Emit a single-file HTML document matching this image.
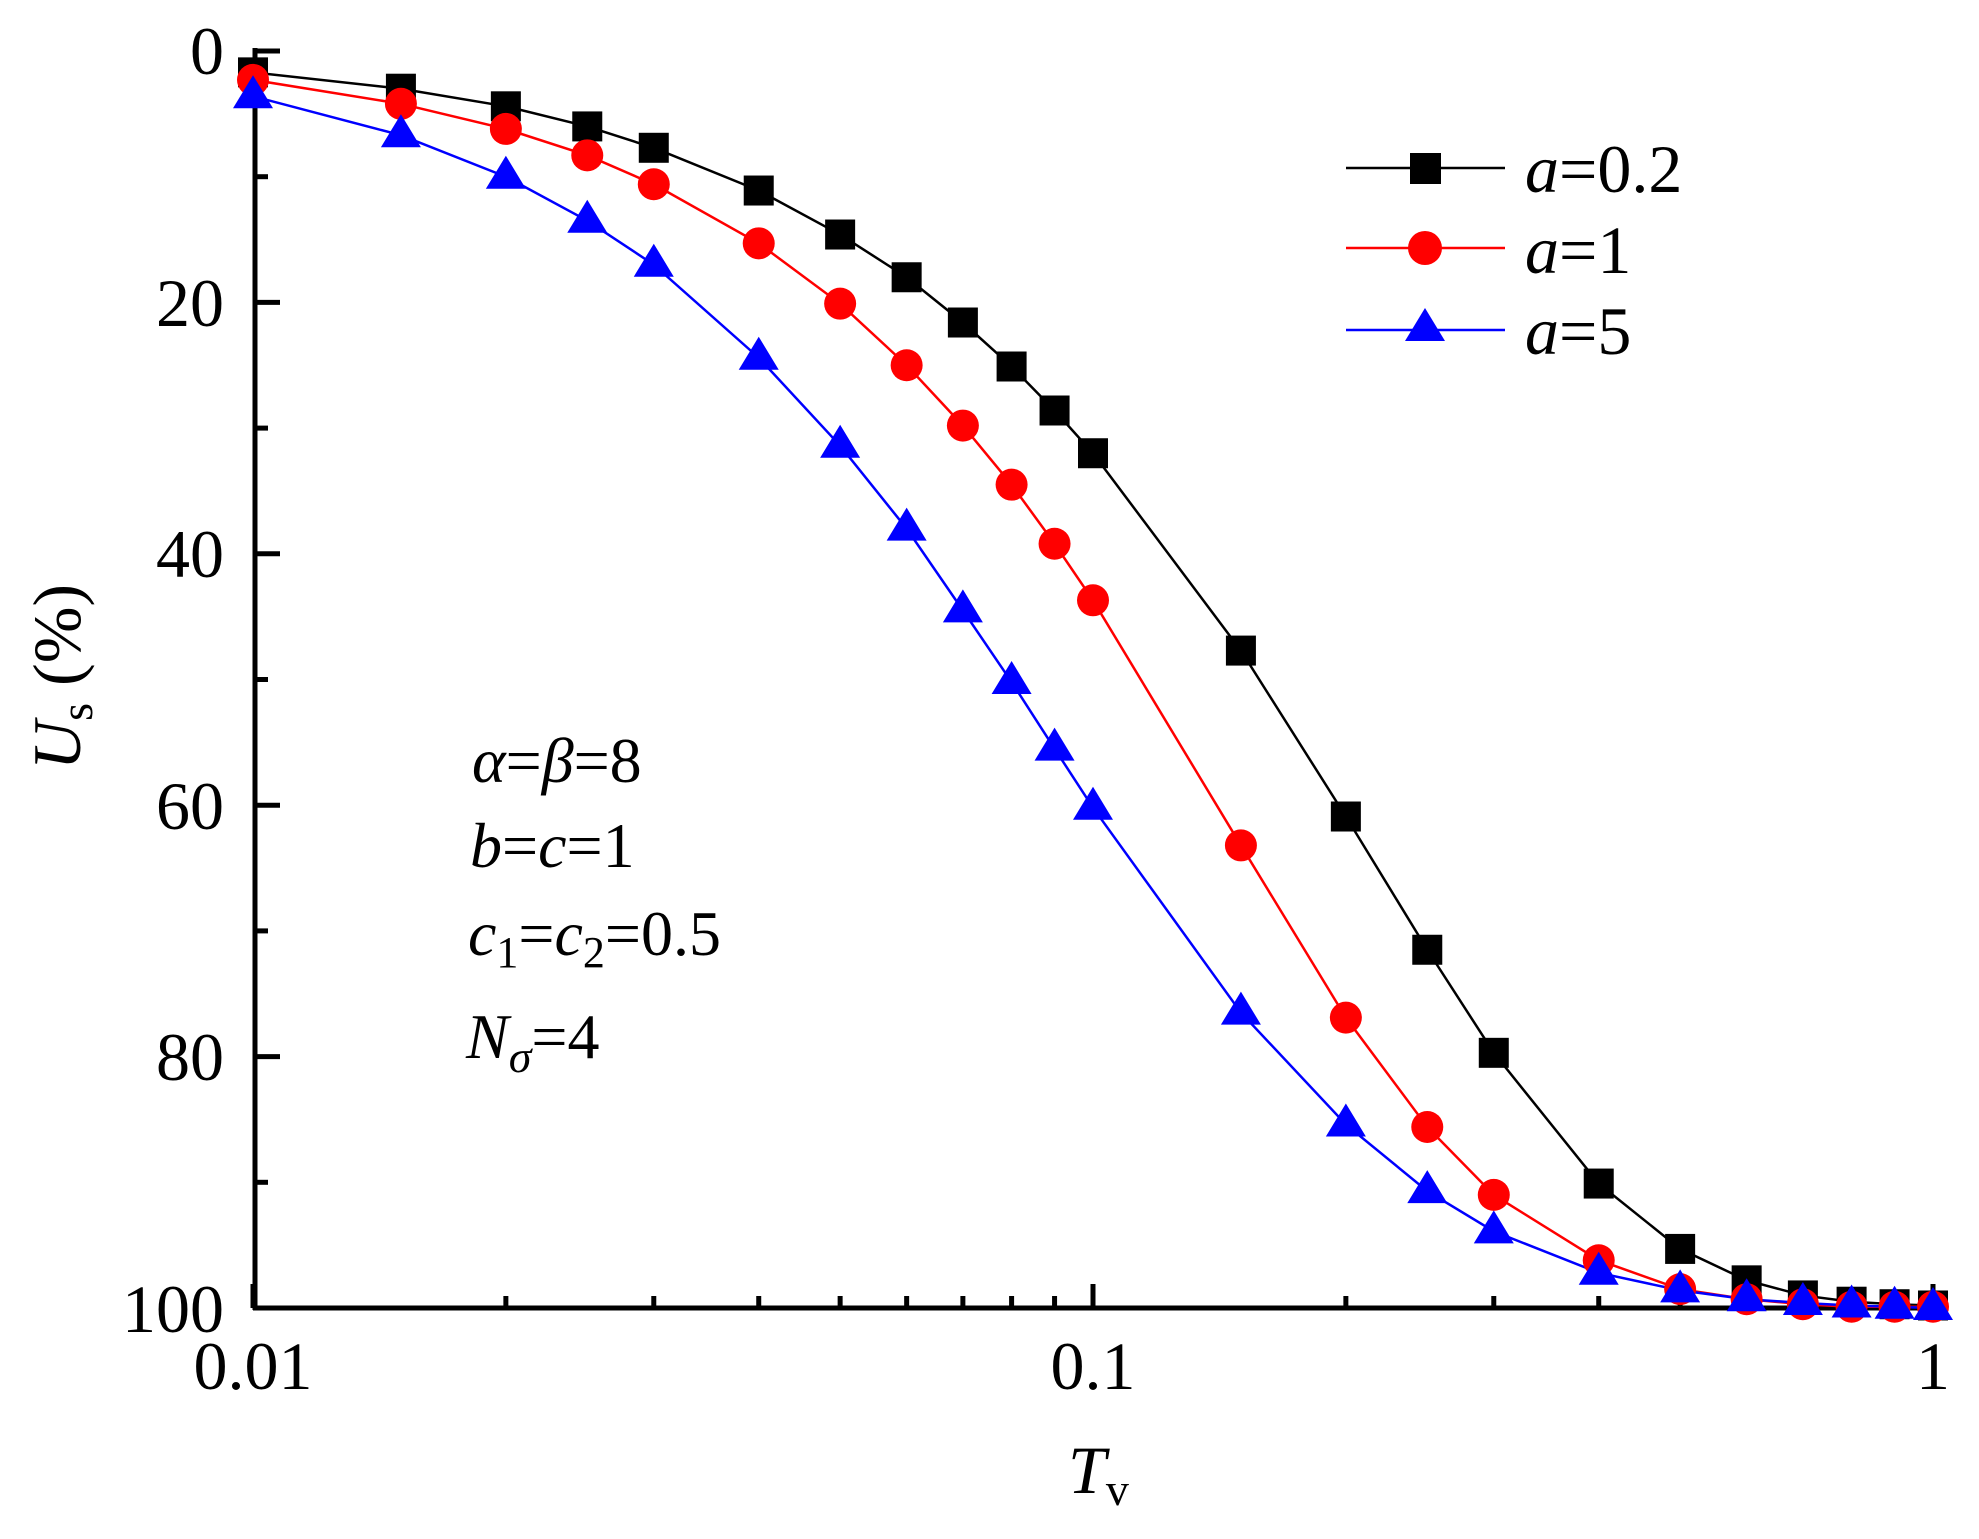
<!DOCTYPE html>
<html><head><meta charset="utf-8"><style>
html,body{margin:0;padding:0;background:#fff}
svg{display:block}
</style></head><body>
<svg id="s" width="1979" height="1539" viewBox="0 0 1979 1539" xmlns="http://www.w3.org/2000/svg" font-family="'Liberation Serif', 'Times New Roman', serif">
<g id="ticks" stroke="#000" stroke-width="5"></g>
<line x1="255" y1="48" x2="255" y2="1310" stroke="#000" stroke-width="5"/>
<line x1="253" y1="1308" x2="1936" y2="1308" stroke="#000" stroke-width="5"/>
<g font-size="68" text-anchor="end">
<text x="224" y="74">0</text>
<text x="224" y="326">20</text>
<text x="224" y="577">40</text>
<text x="224" y="829">60</text>
<text x="224" y="1080">80</text>
<text x="224" y="1332">100</text>
</g>
<g font-size="68" text-anchor="middle">
<text x="253" y="1389">0.01</text>
<text x="1093" y="1389">0.1</text>
<text x="1933" y="1389">1</text>
</g>
<text x="1068" y="1493" font-size="68" font-style="italic">T<tspan font-style="normal" font-size="46" dy="12">v</tspan></text>
<text transform="translate(80,677) rotate(-90)" font-size="68" text-anchor="middle"><tspan font-style="italic">U</tspan><tspan font-size="46" dy="12">s</tspan><tspan dy="-12"> (%)</tspan></text>
<g id="series"></g>
<g>
<line x1="1346" y1="168" x2="1505" y2="168" stroke="#000" stroke-width="2.5"/>
<rect x="1410" y="153" width="31" height="31" fill="#000"/>
<line x1="1346" y1="248" x2="1505" y2="248" stroke="#f00" stroke-width="2.5"/>
<circle cx="1425" cy="248" r="17" fill="#f00"/>
<line x1="1346" y1="330" x2="1505" y2="330" stroke="#00f" stroke-width="2.5"/>
<polygon points="1425,308 1445,341 1405,341" fill="#00f"/>
<g font-size="68">
<text x="1525" y="192"><tspan font-style="italic">a</tspan>=0.2</text>
<text x="1525" y="273"><tspan font-style="italic">a</tspan>=1</text>
<text x="1525" y="354"><tspan font-style="italic">a</tspan>=5</text>
</g>
</g>
<g font-size="64">
<text x="472" y="782"><tspan font-style="italic">α</tspan>=<tspan font-style="italic">β</tspan>=8</text>
<text x="470" y="867"><tspan font-style="italic">b</tspan>=<tspan font-style="italic">c</tspan>=1</text>
<text x="468" y="955"><tspan font-style="italic">c</tspan><tspan font-size="44" dy="12">1</tspan><tspan dy="-12">=</tspan><tspan font-style="italic">c</tspan><tspan font-size="44" dy="12">2</tspan><tspan dy="-12">=0.5</tspan></text>
<text x="466" y="1058"><tspan font-style="italic">N</tspan><tspan font-style="italic" font-size="46" dy="14">σ</tspan><tspan dy="-14">=4</tspan></text>
</g>
</svg>
<script>
var NS="http://www.w3.org/2000/svg";
function X(t){return 253+840*Math.log10(t/0.01);}
function Y(u){return 51+12.57*u;}
var tk=document.getElementById('ticks');
function ln(a,b,c,d){var l=document.createElementNS(NS,'line');l.setAttribute('x1',a);l.setAttribute('y1',b);l.setAttribute('x2',c);l.setAttribute('y2',d);tk.appendChild(l);}
for(var u=0;u<=100;u+=10){var y=Y(u);ln(255,y,(u%20==0)?280:268,y);}
[0.01,0.1,1].forEach(function(d){for(var k=1;k<10;k++){var t=d*k;if(t>1.0001)break;var x=X(t);ln(x,1308,x,(k==1)?1284:1296);}});
var T=[0.01,0.015,0.02,0.025,0.03,0.04,0.05,0.06,0.07,0.08,0.09,0.1,0.15,0.2,0.25,0.3,0.4,0.5,0.6,0.7,0.8,0.9,1];
var D=[
{c:'#000',m:'s',v:[1.7,3,4.4,6,7.7,11.1,14.6,18,21.6,25.1,28.6,32,47.7,60.9,71.5,79.7,90.1,95.3,97.8,99,99.5,99.7,99.8]},
{c:'#f00',m:'c',v:[2.3,4.2,6.2,8.3,10.6,15.3,20.1,25,29.8,34.5,39.2,43.7,63.2,76.9,85.6,91,96.2,98.5,99.3,99.7,99.9,99.9,99.9]},
{c:'#00f',m:'t',v:[3.6,6.7,10,13.5,17,24.4,31.4,38,44.5,50.2,55.5,60.2,76.5,85.4,90.7,93.9,97.2,98.6,99.3,99.6,99.8,99.9,100]}];
var g=document.getElementById('series');
D.forEach(function(s){
 var p=document.createElementNS(NS,'polyline');
 p.setAttribute('points',T.map(function(t,i){return X(t)+','+Y(s.v[i]);}).join(' '));
 p.setAttribute('fill','none');p.setAttribute('stroke',s.c);p.setAttribute('stroke-width','2.5');g.appendChild(p);
});
D.forEach(function(s){
 T.forEach(function(t,i){var x=X(t),y=Y(s.v[i]),e;
  if(s.m=='s'){e=document.createElementNS(NS,'rect');e.setAttribute('x',x-15);e.setAttribute('y',y-15);e.setAttribute('width',30);e.setAttribute('height',30);}
  else if(s.m=='c'){e=document.createElementNS(NS,'circle');e.setAttribute('cx',x);e.setAttribute('cy',y);e.setAttribute('r',16);}
  else{e=document.createElementNS(NS,'polygon');e.setAttribute('points',x+','+(y-21)+' '+(x+20)+','+(y+12)+' '+(x-20)+','+(y+12));}
  e.setAttribute('fill',s.c);g.appendChild(e);});
});
</script>
</body></html>
